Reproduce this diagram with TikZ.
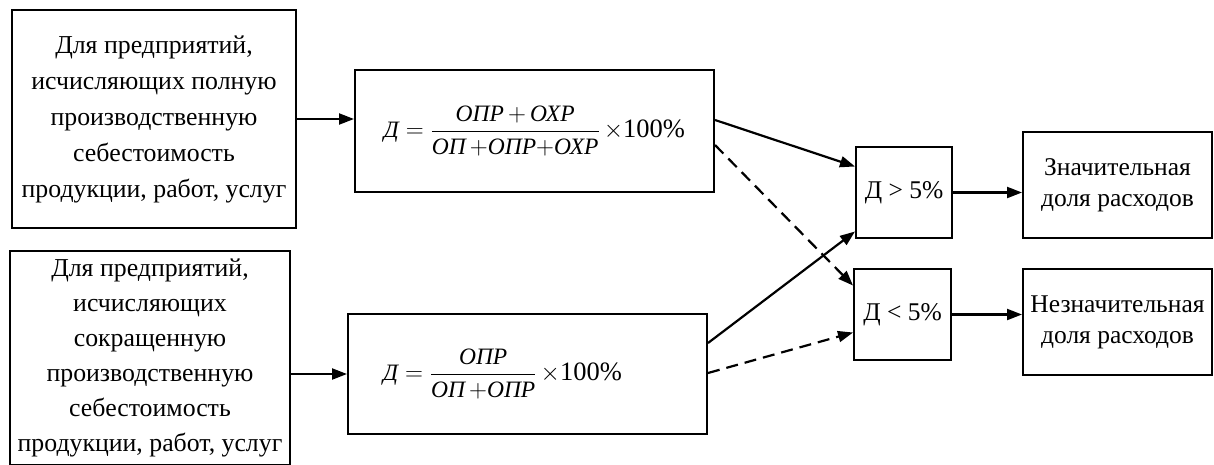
\documentclass[tikz,border=0pt]{standalone}
\usepackage{amsmath}
\usepackage{fontspec}
\setmainfont{Liberation Serif}
\usetikzlibrary{arrows.meta,calc}
\newcommand{\pl}{\mathord{+}}
\newcommand{\hundred}{{\fontsize{26.5}{30}\selectfont 100\%}}
\tikzset{
  box/.style={draw, line width=2pt, align=center, inner sep=0pt},
  arr/.style={line width=2.2pt, -{Triangle[length=15pt,width=11pt]}},
  darr/.style={arr, dash pattern=on 12pt off 7pt},
  big/.style={font=\fontsize{25.8}{36}\selectfont},
  mid/.style={font=\fontsize{25.5}{31}\selectfont},
}
\begin{document}
\begin{tikzpicture}[x=1pt,y=-1pt,font=\fontsize{23.5}{36}\selectfont]
\useasboundingbox (0,0) rectangle (1214,464);
\clip (0,0) rectangle (1214,464);
% left boxes
\node[box, big, minimum width=284pt, minimum height=218pt] (A) at (154,119)
  {Для предприятий,\\исчисляющих полную\\производственную\\себестоимость\\продукции, работ, услуг};
\node[box, minimum width=280pt, minimum height=214pt, font=\fontsize{25.8}{35}\selectfont] (B) at (150,358)
  {Для предприятий,\\исчисляющих\\сокращенную\\производственную\\себестоимость\\продукции, работ, услуг};
% formula boxes
\node[box, minimum width=359pt, minimum height=122pt] (F1) at (534.5,131)
  {$\textit{Д} = \dfrac{\textit{ОПР}\,\pl\,\textit{ОХР}}{\textit{ОП}\,\pl\textit{ОПР}\pl\textit{ОХР}}\,{\times}\text{\hundred}$};
\node[box, minimum width=359pt, minimum height=120pt] (F2) at (527.5,374)
  {\hspace*{-50pt}$\textit{Д} = \dfrac{\textit{ОПР}}{\textit{ОП}\,\pl\textit{ОПР}}\,{\times}\text{\hundred}$};
% condition boxes
\node[box, mid, minimum width=96pt, minimum height=91pt] (G) at (904,192.5) {Д > 5\%};
\node[box, mid, minimum width=97pt, minimum height=91pt] (L) at (902.5,314.5) {Д < 5\%};
% result boxes
\node[box, mid, minimum width=189pt, minimum height=106pt] (S) at (1117.5,185) {Значительная\\доля расходов};
\node[box, mid, minimum width=189pt, minimum height=106pt] (N) at (1117.5,322) {Незначительная\\доля расходов};
% connectors
\draw[arr] (A.east) -- (A.east -| F1.west);
\draw[arr] (F2.west -| B.east) -- (F2.west);
\draw[arr] ($(F1.east)+(0,-11)$) -- ($(G.west)+(0,-26)$);
\draw[darr] ($(F1.east)+(0,14)$) -- ($(L.west)+(0,-29)$);
\draw[arr] ($(F2.east)+(0,-31)$) -- ($(G.west)+(0,39)$);
\draw[darr] ($(F2.east)+(0,-1)$) -- ($(L.west)+(0,18)$);
\draw[arr] (G.east) -- (G.east -| S.west);
\draw[arr] (L.east) -- (L.east -| N.west);
\end{tikzpicture}
\end{document}
